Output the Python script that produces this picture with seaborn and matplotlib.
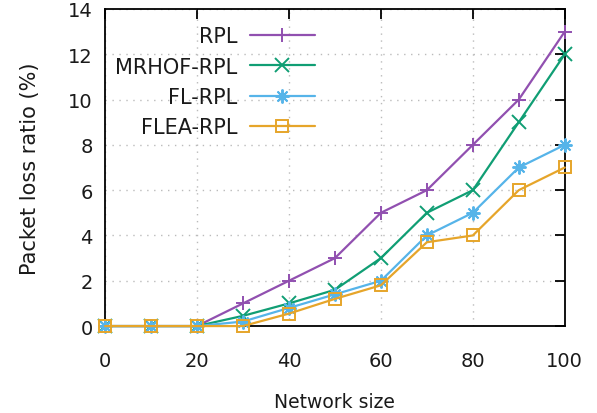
import numpy as np
import pandas as pd
import seaborn as sns
import matplotlib
matplotlib.use('Agg')
import matplotlib.pyplot as plt

# data
network_size = [0, 10, 20, 30, 40, 50, 60, 70, 80, 90, 100]
rpl = [0, 0, 0, 1.0, 2.0, 3.0, 5.0, 6.0, 8.0, 10.0, 13.0]
mrhof_rpl = [0, 0, 0, 0.45, 1.0, 1.6, 3.0, 5.0, 6.0, 9.0, 12.0]
fl_rpl = [0, 0, 0, 0.2, 0.8, 1.4, 2.0, 4.0, 5.0, 7.0, 8.0]
flea_rpl = [0, 0, 0, 0.0, 0.55, 1.2, 1.8, 3.7, 4.0, 6.0, 7.0]

series_names = ['RPL', 'MRHOF-RPL', 'FL-RPL', 'FLEA-RPL']
series_values = [rpl, mrhof_rpl, fl_rpl, flea_rpl]
colors = ['#9150b0', '#109e74', '#56b4e9', '#e6a52a']
markers = ['+', 'x', (8, 2, 0), 's']

sns.set_style('white')
plt.rcParams['font.family'] = ['DejaVu Sans']
plt.rcParams['text.color'] = '#1a1a1a'
plt.rcParams['axes.labelcolor'] = '#1a1a1a'

fig = plt.figure(figsize=(5.97, 4.14), dpi=100)
ax = fig.add_axes([0.176, 0.21, 0.77, 0.766])

for name, vals, c, m in zip(series_names, series_values, colors, markers):
    df = pd.DataFrame({'size': network_size, 'loss': vals})
    kw = dict(markersize=10, markeredgewidth=1.4, markeredgecolor=c)
    if m == 's':
        kw.update(markerfacecolor='none', markersize=8.5)
    sns.lineplot(data=df, x='size', y='loss', ax=ax, color=c, marker=m,
                 linewidth=1.6, label=name, clip_on=False, zorder=3, **kw)

ax.set_xlim(0, 100)
ax.set_ylim(0, 14)
ax.set_xticks(np.arange(0, 101, 20))
ax.set_yticks(np.arange(0, 15, 2))
ax.grid(True, color='#bbbbbb', linestyle=(0, (1, 4)), linewidth=1)
for sp in ax.spines.values():
    sp.set_color('black')
    sp.set_linewidth(1.3)
    sp.set_zorder(2)
ax.tick_params(direction='in', length=7, width=1.3, top=True, right=True,
               labelsize=14, colors='black', labelcolor='#1a1a1a')
ax.tick_params(axis='x', pad=18)
ax.tick_params(axis='y', pad=9)
ax.set_xlabel('Network size', fontsize=13.5, labelpad=16)
ax.set_ylabel('Packet loss ratio (%)', fontsize=15, labelpad=20)

leg = ax.legend(loc='upper right', frameon=False, markerfirst=False,
                fontsize=15, handlelength=3.1, handletextpad=0.62,
                labelspacing=0.5, borderaxespad=0,
                bbox_to_anchor=(0.474, 0.972))
leg._legend_box.align = 'right'

fig.savefig('out.png', dpi=100)
